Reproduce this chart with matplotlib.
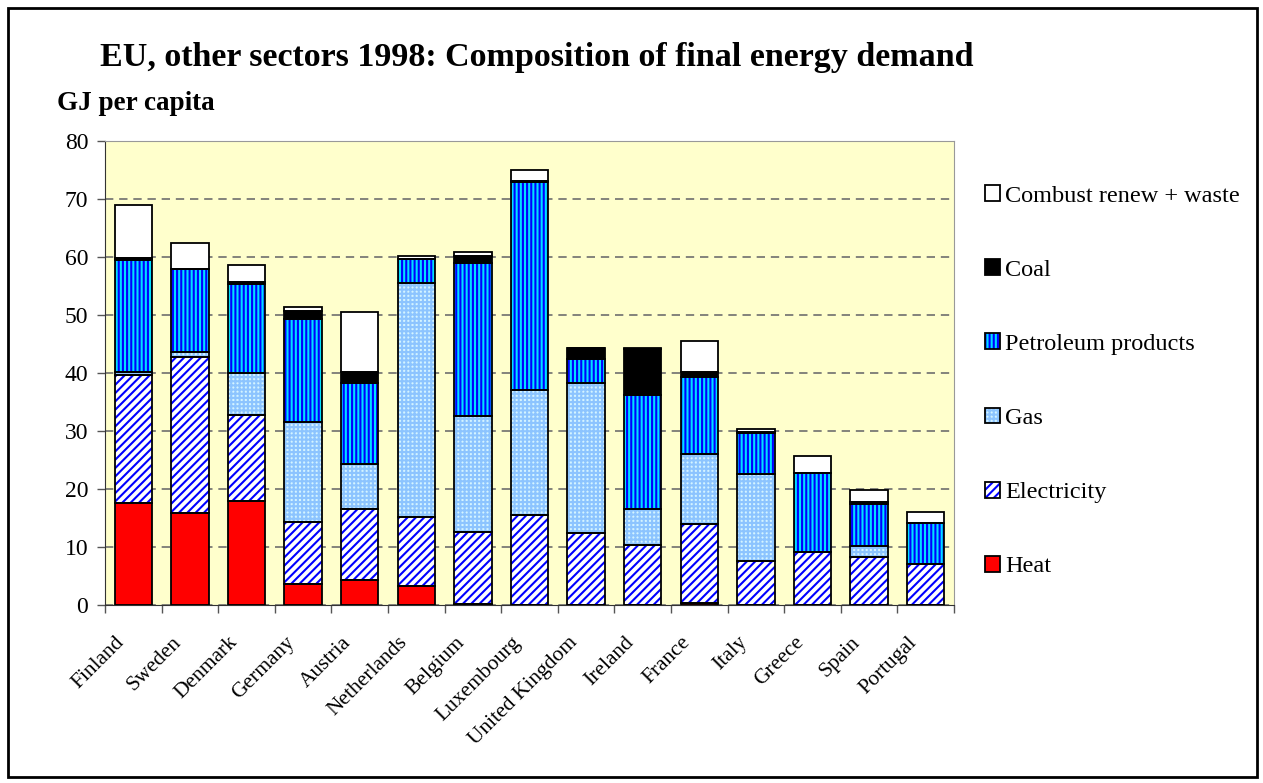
import matplotlib
matplotlib.use("Agg")
import matplotlib.pyplot as plt
import numpy as np
from matplotlib.patches import Rectangle
from matplotlib.legend_handler import HandlerTuple
from matplotlib.transforms import ScaledTranslation

plt.rcParams['font.family'] = ['Liberation Serif', 'DejaVu Serif']
plt.rcParams['hatch.linewidth'] = 1.5

countries = ["Finland", "Sweden", "Denmark", "Germany", "Austria", "Netherlands",
             "Belgium", "Luxembourg", "United Kingdom", "Ireland", "France",
             "Italy", "Greece", "Spain", "Portugal"]

# GJ per capita, by carrier
heat = [17.6, 15.8, 17.9, 3.6, 4.3, 3.2, 0.1, 0.0, 0.0, 0.0, 0.4, 0.0, 0.0, 0.0, 0.0]
electricity = [22.1, 27.0, 14.9, 10.7, 12.3, 11.9, 12.5, 15.6, 12.4, 10.3, 13.6, 7.6, 9.1, 8.2, 7.1]
gas = [0.5, 0.9, 7.2, 17.2, 7.8, 40.5, 20.0, 21.5, 25.8, 6.3, 12.0, 15.0, 0.0, 2.0, 0.0]
petroleum = [19.3, 14.2, 15.3, 17.9, 13.9, 4.0, 26.4, 35.9, 4.3, 19.6, 13.4, 7.0, 13.6, 7.3, 7.0]
coal = [0.3, 0.1, 0.4, 1.3, 1.9, 0.0, 1.1, 0.05, 1.8, 8.0, 0.7, 0.2, 0.0, 0.3, 0.0]
combust = [9.2, 4.5, 3.0, 0.6, 10.4, 0.5, 0.7, 2.0, 0.1, 0.2, 5.4, 0.6, 3.0, 2.0, 1.9]

series = [
    ("Heat", heat, "#FF0000", None, "#FF0000"),
    ("Electricity", electricity, "white", "////", "#0000FF"),
    ("Gas", gas, "#D4F4FF", "++++", "#8CC4FF"),
    ("Petroleum products", petroleum, "#00E0FF", "||||", "#0000FF"),
    ("Coal", coal, "black", None, "black"),
    ("Combust renew + waste", combust, "white", None, "white"),
]

fig = plt.figure(figsize=(12.63, 7.83), dpi=100)
ax = fig.add_axes([0.0831, 0.2273, 0.6722, 0.5926])
ax.set_facecolor("#FFFFCC")

x = np.arange(len(countries))
bottom = np.zeros(len(countries))
handles = []
for name, vals, face, hatch, hcol in series:
    vals = np.array(vals)
    b1 = ax.bar(x, vals, 0.66, bottom=bottom, color=face, hatch=hatch,
                edgecolor=hcol, linewidth=0, zorder=2)
    b2 = ax.bar(x, vals, 0.66, bottom=bottom, fill=False,
                edgecolor="black", linewidth=1.3, zorder=3)
    handles.append((b1[0], b2[0], name))
    bottom += vals

ax.set_xlim(-0.5, len(countries) - 0.5)
ax.set_ylim(0, 80)
ax.set_yticks(range(0, 81, 10))
ax.yaxis.grid(True, linestyle=(0, (5, 3.5)), color="#6E6E6E", linewidth=1.2)
ax.set_axisbelow(True)

# category labels, rotated, placed under each bar
ax.set_xticks(np.arange(-0.5, len(countries)))
ax.set_xticklabels([])
ax.tick_params(axis="x", length=6, width=1, color="#555555")
lab_trans = ax.get_xaxis_transform() + ScaledTranslation(-0.18, -0.28, fig.dpi_scale_trans)
for i, c in enumerate(countries):
    ax.text(x[i], 0, c, transform=lab_trans, rotation=45, ha="right", va="top",
            rotation_mode="anchor", fontsize=15.5)
ax.tick_params(axis="y", length=6, width=1, color="#555555", labelsize=17, pad=6)

for s in ["top", "right"]:
    ax.spines[s].set_color("#999999")
ax.spines["left"].set_color("#333333")
ax.spines["bottom"].set_color("#333333")

hs = [(h[0], h[1]) for h in handles][::-1]
ls = [h[2] for h in handles][::-1]
ax.legend(hs, ls, handler_map={tuple: HandlerTuple(ndivide=1)},
          loc="upper left", bbox_to_anchor=(1.036, 0.905), frameon=False,
          fontsize=17.5, labelspacing=2.17, handlelength=0.62, handleheight=0.62,
          handletextpad=0.22, borderaxespad=0, borderpad=0)

fig.text(0.425, 0.927, "EU, other sectors 1998: Composition of final energy demand",
         ha="center", va="center", fontsize=24.5, fontweight="bold")
fig.text(0.045, 0.868, "GJ per capita", ha="left", va="center",
         fontsize=19.5, fontweight="bold")

fig.patches.append(Rectangle((0.0067, 0.0077), 0.9885, 0.9821, transform=fig.transFigure,
                             fill=False, edgecolor="black", linewidth=2))

fig.savefig("out.png", dpi=100)
